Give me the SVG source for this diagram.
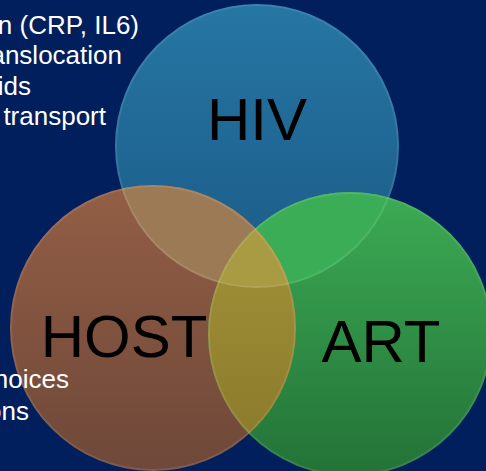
<svg xmlns="http://www.w3.org/2000/svg" width="486" height="471" viewBox="0 0 486 471">
<style>
.lbl{font-family:"Liberation Sans",Arial,sans-serif;font-size:60px;fill:#000;text-anchor:middle}
.side{font-family:"Liberation Sans",Arial,sans-serif;font-size:26px;fill:#fff;text-anchor:end}
.rim{fill:none;stroke:#fff;stroke-opacity:0.1;stroke-width:2}
</style>
<defs>
<linearGradient id="gHiv" x1="0" y1="0" x2="0" y2="1"><stop offset="0" stop-color="#2676a4"/><stop offset="1" stop-color="#1b5a86"/></linearGradient>
<linearGradient id="gHost" x1="0" y1="0" x2="0" y2="1"><stop offset="0" stop-color="#935e45"/><stop offset="1" stop-color="#6e4839"/></linearGradient>
<linearGradient id="gArt" x1="0" y1="0" x2="0" y2="1"><stop offset="0" stop-color="#3cab54"/><stop offset="1" stop-color="#237237"/></linearGradient>
<linearGradient id="gHA" x1="0" y1="0" x2="0" y2="1"><stop offset="0" stop-color="#a8963c"/><stop offset="1" stop-color="#877829"/></linearGradient>
<clipPath id="cHiv"><circle cx="257" cy="146" r="142"/></clipPath>
<clipPath id="cHost"><circle cx="153" cy="328" r="143"/></clipPath>
<clipPath id="cArt"><circle cx="350" cy="334" r="142"/></clipPath>
</defs>
<rect width="486" height="471" fill="#011f5d"/>
<g id="hiv">
<circle cx="257" cy="146" r="142" fill="url(#gHiv)"/>
<text class="lbl" x="257" y="140">HIV</text>
</g>
<g id="host">
<circle cx="153" cy="328" r="143" fill="url(#gHost)"/>
<circle cx="257" cy="146" r="142" fill="#9c7a55" clip-path="url(#cHost)"/>
<text class="lbl" x="124" y="357">HOST</text>
</g>
<g id="art">
<circle cx="350" cy="334" r="142" fill="url(#gArt)"/>
<circle cx="257" cy="146" r="142" fill="#3cad57" clip-path="url(#cArt)"/>
<circle cx="153" cy="328" r="143" fill="url(#gHA)" clip-path="url(#cArt)"/>
<g clip-path="url(#cHost)"><circle cx="257" cy="146" r="142" fill="#a99a44" clip-path="url(#cArt)"/></g>
<text class="lbl" x="381" y="362">ART</text>
</g>
<g id="rims">
<circle class="rim" cx="257" cy="146" r="141"/>
<circle class="rim" cx="153" cy="328" r="142"/>
<circle class="rim" cx="350" cy="334" r="141"/>
</g>
<g id="side-text">
<text class="side" x="139" y="34">n (CRP, IL6)</text>
<text class="side" x="122" y="64">anslocation</text>
<text class="side" x="31" y="95">ids</text>
<text class="side" x="106" y="125">transport</text>
<text class="side" x="69" y="388">hoices</text>
<text class="side" x="29" y="420">ons</text>
</g>
</svg>
